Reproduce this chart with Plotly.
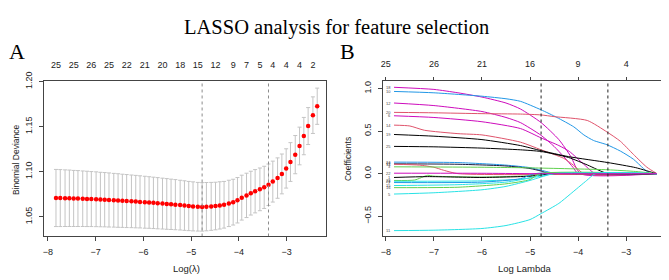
import plotly.graph_objects as go

# ---------------- Panel A data (cross-validation curve) ----------------
log_lambda = [-7.83, -7.74, -7.64, -7.55, -7.46, -7.37, -7.27, -7.18, -7.09, -6.99,
              -6.90, -6.81, -6.72, -6.62, -6.53, -6.44, -6.35, -6.25, -6.16, -6.07,
              -5.97, -5.88, -5.79, -5.70, -5.60, -5.51, -5.42, -5.33, -5.23, -5.14,
              -5.05, -4.96, -4.86, -4.77, -4.68, -4.58, -4.49, -4.40, -4.31, -4.21,
              -4.12, -4.03, -3.94, -3.84, -3.75, -3.66, -3.56, -3.47, -3.38, -3.29,
              -3.19, -3.10, -3.01, -2.92, -2.82, -2.73, -2.64, -2.55, -2.45, -2.36]
cv_mean = [1.0708, 1.0707, 1.0706, 1.0705, 1.0703, 1.0702, 1.0700, 1.0698, 1.0696, 1.0694,
           1.0691, 1.0689, 1.0686, 1.0683, 1.0680, 1.0677, 1.0674, 1.0671, 1.0668, 1.0665,
           1.0661, 1.0658, 1.0654, 1.0650, 1.0646, 1.0642, 1.0638, 1.0634, 1.0629, 1.0624,
           1.0619, 1.0615, 1.0611, 1.0609, 1.0612, 1.0615, 1.0619, 1.0626, 1.0633, 1.0648,
           1.0662, 1.0683, 1.0712, 1.0737, 1.0762, 1.0783, 1.0804, 1.0826, 1.0855, 1.0890,
           1.0929, 1.0975, 1.1036, 1.1107, 1.1189, 1.1285, 1.1395, 1.1506, 1.1627, 1.1726]
cv_sd = [0.0317, 0.0316, 0.0314, 0.0313, 0.0311, 0.0310, 0.0308, 0.0307, 0.0305, 0.0304,
         0.0302, 0.0301, 0.0300, 0.0298, 0.0297, 0.0295, 0.0294, 0.0292, 0.0291, 0.0289,
         0.0288, 0.0286, 0.0285, 0.0284, 0.0282, 0.0281, 0.0279, 0.0278, 0.0276, 0.0275,
         0.0273, 0.0272, 0.0270, 0.0269, 0.0268, 0.0266, 0.0264, 0.0262, 0.0259, 0.0257,
         0.0254, 0.0252, 0.0249, 0.0246, 0.0243, 0.0240, 0.0237, 0.0234, 0.0230, 0.0227,
         0.0224, 0.0221, 0.0218, 0.0215, 0.0212, 0.0209, 0.0207, 0.0205, 0.0203, 0.0201]
lambda_min = -4.77
lambda_1se = -3.38
nzero_pos = [-7.83, -7.46, -7.09, -6.72, -6.35, -5.97, -5.60, -5.23, -4.86, -4.49,
             -4.12, -3.84, -3.56, -3.29, -3.01, -2.73, -2.45]
nzero_labels = ["25", "25", "26", "25", "22", "21", "20", "18", "15", "12",
                "9", "7", "5", "4", "4", "4", "2"]
a_xticks = [-8, -7, -6, -5, -4, -3]
a_yticks = [1.05, 1.10, 1.15, 1.20]

# ---------------- Panel B data (coefficient paths) ----------------
path_labels = ["18", "10", "12", "20", "6", "14", "19", "25", "24", "17", "13", "3",
               "23", "1", "21", "7", "15", "16", "5", "11", "22"]
path_colors = ["#CD0BBC", "#2297E6", "#CD0BBC", "#DF536B", "#CD0BBC", "#DF536B",
               "#000000", "#000000", "#2297E6", "#1a1a40", "#DF536B", "#61D04F",
               "#61D04F", "#000000", "#28E2E5", "#2297E6", "#28E2E5", "#61D04F",
               "#28E2E5", "#28E2E5", "#CD0BBC"]
path_x = [
    [-7.83, -7.0, -6.5, -6.0, -5.5, -5.2, -4.77, -4.4, -4.15, -3.95, -2.36],
    [-7.83, -7.0, -6.0, -5.5, -5.2, -4.77, -4.44, -4.09, -3.88, -3.68, -3.4, -3.12, -2.85, -2.64, -2.5, -2.36],
    [-7.83, -7.0, -6.0, -5.5, -5.2, -4.77, -4.5, -4.3, -4.1, -4.0, -2.36],
    [-7.83, -7.0, -6.0, -5.2, -4.77, -4.5, -3.81, -3.4, -3.12, -2.85, -2.57, -2.36],
    [-7.83, -7.0, -6.0, -5.2, -4.77, -4.4, -4.18, -3.9, -3.64, -2.36],
    [-7.83, -7.5, -7.2, -6.5, -6.0, -5.2, -4.77, -4.3, -4.1, -3.88, -2.36],
    [-7.83, -7.0, -6.0, -5.2, -4.77, -4.2, -3.38, -2.8, -2.4, -2.36],
    [-7.83, -7.0, -6.0, -5.2, -4.77, -4.2, -3.8, -3.38, -2.36],
    [-7.83, -6.5, -5.5, -5.0, -4.77, -4.44, -2.36],
    [-7.83, -6.5, -5.5, -5.0, -4.77, -4.6, -2.36],
    [-7.83, -7.3, -7.0, -6.8, -6.5, -2.36],
    [-7.83, -6.0, -5.0, -4.77, -4.0, -3.38, -2.8, -2.36],
    [-7.83, -7.4, -7.13, -7.0, -6.0, -5.0, -4.5, -2.36],
    [-7.83, -7.13, -6.0, -5.0, -4.5, -2.36],
    [-7.83, -6.0, -5.2, -4.77, -4.5, -2.36],
    [-7.83, -6.0, -5.2, -4.9, -2.36],
    [-7.83, -6.5, -5.5, -5.0, -4.7, -2.36],
    [-7.83, -6.5, -5.5, -5.0, -4.8, -2.36],
    [-7.83, -7.0, -6.0, -5.5, -5.0, -4.77, -4.5, -2.36],
    [-7.83, -7.0, -6.0, -5.5, -5.0, -4.77, -4.4, -4.16, -3.82, -3.64, -2.36],
    [-7.83, -6.0, -5.0, -2.36],
]
path_y = [
    [1.015, 0.99, 0.95, 0.90, 0.83, 0.76, 0.60, 0.40, 0.20, 0.0, 0.0],
    [0.966, 0.95, 0.91, 0.88, 0.85, 0.75, 0.66, 0.55, 0.455, 0.39, 0.34, 0.265, 0.17, 0.06, 0.0, 0.0],
    [0.83, 0.80, 0.73, 0.66, 0.60, 0.45, 0.32, 0.20, 0.07, 0.0, 0.0],
    [0.72, 0.715, 0.705, 0.70, 0.69, 0.67, 0.625, 0.49, 0.38, 0.227, 0.076, 0.0],
    [0.68, 0.66, 0.61, 0.53, 0.42, 0.33, 0.26, 0.12, 0.0, 0.0],
    [0.57, 0.56, 0.51, 0.47, 0.455, 0.37, 0.28, 0.18, 0.10, 0.0, 0.0],
    [0.46, 0.44, 0.40, 0.33, 0.27, 0.20, 0.13, 0.07, 0.005, 0.0],
    [0.32, 0.315, 0.30, 0.28, 0.26, 0.19, 0.10, 0.0, 0.0],
    [0.135, 0.13, 0.10, 0.07, 0.04, 0.0, 0.0],
    [0.115, 0.11, 0.09, 0.06, 0.03, 0.0, 0.0],
    [0.11, 0.10, 0.075, 0.04, 0.0, 0.0],
    [0.08, 0.075, 0.068, 0.065, 0.055, 0.045, 0.025, 0.0],
    [-0.08, -0.075, -0.02, -0.03, -0.04, -0.025, 0.0, 0.0],
    [-0.045, -0.035, -0.045, -0.03, 0.0, 0.0],
    [-0.09, -0.085, -0.065, -0.03, 0.0, 0.0],
    [-0.105, -0.10, -0.06, 0.0, 0.0],
    [-0.14, -0.13, -0.10, -0.05, 0.0, 0.0],
    [-0.165, -0.16, -0.12, -0.07, 0.0, 0.0],
    [-0.24, -0.225, -0.19, -0.15, -0.08, -0.04, 0.0, 0.0],
    [-0.67, -0.665, -0.645, -0.61, -0.54, -0.47, -0.35, -0.24, -0.08, 0.0, 0.0],
    [0.005, 0.004, 0.0, 0.0],
]
b_top_pos = [-8, -7, -6, -5, -4, -3]
b_top_labels = ["25", "26", "21", "16", "9", "4"]
b_yticks = [-0.5, 0.0, 0.5, 1.0]

# ---------------- Layout geometry ----------------
# The page body has an 8px default margin, so the figure is drawn 8px in and 8px down.
OFF = 8
W, H = 669 - OFF, 280 - OFF
def px_x(p): return (p - OFF) / W
def px_y(p): return 1 - (p - OFF) / H

SANS = "Liberation Sans, Arial, sans-serif"
SERIF = "Liberation Serif, Times New Roman, serif"
AX = "#444444"
A_YR = [1.0281, 1.2008]
B_YR = [-0.739, 1.091]

fig = go.Figure()

# Panel A: error bars + red dots
fig.add_trace(go.Scatter(
    x=log_lambda, y=cv_mean, mode="markers",
    marker=dict(color="red", size=4.5, line=dict(width=0)),
    error_y=dict(type="data", array=cv_sd, visible=True, color="#C4C4C4", thickness=1, width=2),
    xaxis="x", yaxis="y", showlegend=False, hoverinfo="skip"))
fig.add_trace(go.Scatter(x=nzero_pos, y=[cv_mean[0]] * len(nzero_pos), mode="markers",
                         marker=dict(opacity=0), xaxis="x3", yaxis="y",
                         showlegend=False, hoverinfo="skip"))
for v in (lambda_min, lambda_1se):
    fig.add_trace(go.Scatter(x=[v, v], y=A_YR, mode="lines",
                             line=dict(color="#8c8c8c", width=1, dash="dot"),
                             xaxis="x", yaxis="y", showlegend=False, hoverinfo="skip"))

# Panel B: coefficient paths
for lab, col, xs, ys in zip(path_labels, path_colors, path_x, path_y):
    fig.add_trace(go.Scatter(x=xs, y=ys, mode="lines",
                             line=dict(color=col, width=1, shape="spline", smoothing=0.6),
                             xaxis="x2", yaxis="y2", showlegend=False, hoverinfo="skip"))
fig.add_trace(go.Scatter(x=b_top_pos, y=[0] * len(b_top_pos), mode="markers",
                         marker=dict(opacity=0), xaxis="x4", yaxis="y2",
                         showlegend=False, hoverinfo="skip"))
for v in (lambda_min, lambda_1se):
    fig.add_trace(go.Scatter(x=[v, v], y=B_YR, mode="lines",
                             line=dict(color="#222222", width=1, dash="3px,3px"),
                             xaxis="x2", yaxis="y2", showlegend=False, hoverinfo="skip"))

common_axis = dict(showgrid=False, zeroline=False, showline=True, linecolor=AX,
                   linewidth=1, mirror=True, ticks="outside", ticklen=4,
                   tickcolor=AX, tickwidth=1, tickfont=dict(family=SANS, size=9, color="#222"))

fig.update_layout(
    width=W, height=H, margin=dict(l=0, r=0, t=0, b=0),
    paper_bgcolor="white", plot_bgcolor="white",
    xaxis=dict(common_axis, domain=[px_x(42), px_x(325)], range=[-8.083, -2.175],
               anchor="y", tickvals=a_xticks, ticklabelstandoff=3),
    yaxis=dict(common_axis, domain=[px_y(235), px_y(74)], range=A_YR,
               anchor="x", tickvals=a_yticks, ticktext=[f"{v:.2f}" for v in a_yticks],
               tickangle=-90, ticklabelstandoff=3),
    xaxis3=dict(overlaying="x", side="top", anchor="y", range=[-8.083, -2.175],
                tickvals=nzero_pos, ticktext=nzero_labels, showline=False, showgrid=False,
                zeroline=False, ticks="", ticklabelstandoff=10,
                tickfont=dict(family=SANS, size=9, color="#222")),
    xaxis2=dict(common_axis, domain=[px_x(382), px_x(667)], range=[-8.062, -2.15],
                anchor="y2", tickvals=a_xticks, ticklabelstandoff=3),
    yaxis2=dict(common_axis, domain=[px_y(235), px_y(74)], range=B_YR,
                anchor="x2", tickvals=b_yticks, ticktext=["\u22120.5", "0.0", "0.5", "1.0"],
                tickangle=-90, ticklabelstandoff=3),
    xaxis4=dict(overlaying="x2", side="top", anchor="y2", range=[-8.062, -2.15],
                tickvals=b_top_pos, ticktext=b_top_labels, showline=False, showgrid=False,
                zeroline=False, ticks="outside", ticklen=3, tickcolor=AX, ticklabelstandoff=6,
                tickfont=dict(family=SANS, size=9, color="#222")),
)

ann = [
    dict(text="LASSO analysis for feature selection", x=px_x(335), y=px_y(19), xref="paper", yref="paper",
         showarrow=False, font=dict(family=SERIF, size=20.5, color="black"), xanchor="center", yanchor="middle"),
    dict(text="A", x=px_x(15), y=px_y(44), xref="paper", yref="paper", showarrow=False,
         font=dict(family=SERIF, size=22, color="black"), xanchor="center", yanchor="middle"),
    dict(text="B", x=px_x(347), y=px_y(44), xref="paper", yref="paper", showarrow=False,
         font=dict(family=SERIF, size=22, color="black"), xanchor="center", yanchor="middle"),
    dict(text="Binomial Deviance", x=px_x(14), y=px_y(155), xref="paper", yref="paper",
         showarrow=False, textangle=-90, font=dict(family=SANS, size=8.5, color="#222"),
         xanchor="center", yanchor="middle"),
    dict(text="Log(\u03bb)", x=px_x(185), y=px_y(268), xref="paper", yref="paper",
         showarrow=False, font=dict(family=SANS, size=9.5, color="#222"),
         xanchor="center", yanchor="middle"),
    dict(text="Coefficients", x=px_x(347), y=px_y(155), xref="paper", yref="paper",
         showarrow=False, textangle=-90, font=dict(family=SANS, size=8.5, color="#222"),
         xanchor="center", yanchor="middle"),
    dict(text="Log Lambda", x=px_x(525), y=px_y(268), xref="paper", yref="paper",
         showarrow=False, font=dict(family=SANS, size=9.5, color="#222"),
         xanchor="center", yanchor="middle"),
]
for lab, ys in zip(path_labels, path_y):
    ann.append(dict(text=lab, x=-7.855, y=ys[0], xref="x2", yref="y2", showarrow=False,
                    font=dict(family=SANS, size=4, color="#444"), xanchor="right", yanchor="middle"))
fig.update_layout(annotations=ann)

fig.write_html("out.html")
